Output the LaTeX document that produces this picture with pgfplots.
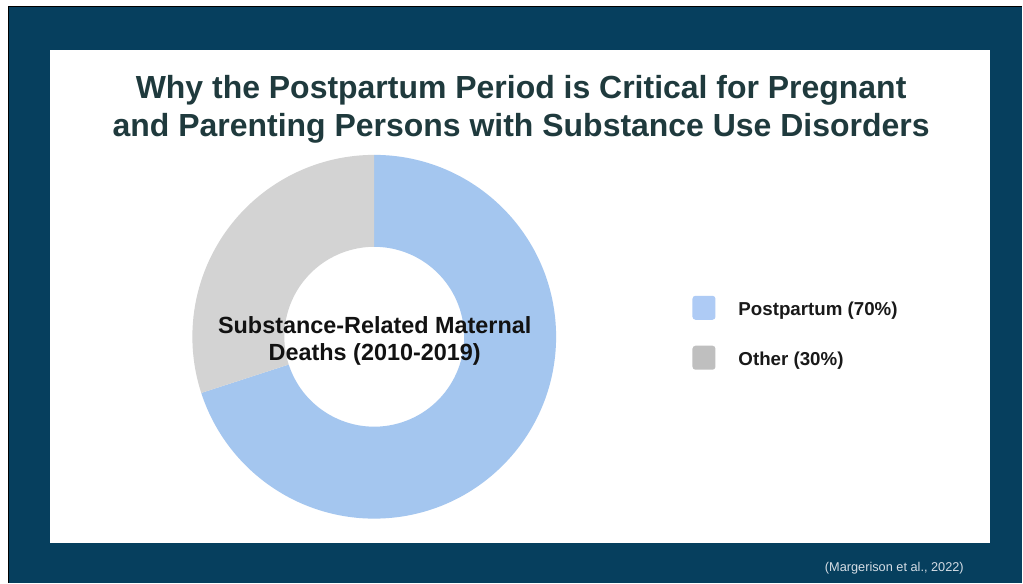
\documentclass[border=0pt]{standalone}
\usepackage{pgfplots}
\usepackage{pgfplotstable}
\pgfplotsset{compat=1.18}
\usepackage{fontspec}
\setmainfont{Liberation Sans}
\definecolor{framebg}{HTML}{063F5E}
\definecolor{titlecol}{HTML}{1F3A3D}
\definecolor{pblue}{HTML}{A4C6EF}
\definecolor{pgray}{HTML}{D3D3D3}
\definecolor{lblue}{HTML}{AECBF5}
\definecolor{lgray}{HTML}{BFBFBF}
\definecolor{citecol}{HTML}{D5DDE5}
\pgfplotstableread{
label value
Postpartum 70
Other 30
}\donutdata
\begin{document}
\begin{tikzpicture}[x=1bp,y=1bp]
\pgfplotstablegetelem{0}{value}\of\donutdata \let\vA\pgfplotsretval
\pgfplotstablegetelem{1}{value}\of\donutdata \let\vB\pgfplotsretval
\pgfmathsetmacro\fA{\vA/(\vA+\vB)}
\pgfmathsetmacro\fB{\vB/(\vA+\vB)}
\pgfmathsetmacro\angA{90-360*\fA}
\pgfmathsetmacro\angB{\angA-360*\fB}
\fill[white] (0,0) rectangle (1023,583);
\fill[framebg] (9,0) rectangle (1023,576.5);
\draw[black, line width=1.5bp] (8.5,0) -- (8.5,576.5) -- (1023,576.5);
\fill[white] (50,40) rectangle (991,533);
\node[font=\fontsize{32.1}{37.5}\selectfont\bfseries, text=titlecol, align=center] at (521.5,473.5) {Why the Postpartum Period is Critical for Pregnant\\and Parenting Persons with Substance Use Disorders};
\begin{axis}[x=1bp,y=1bp, xmin=-185,xmax=185,ymin=-185,ymax=185, hide axis,
  at={(374.5,246)}, anchor=center, clip=false]
\fill[pblue] (0,182) arc[start angle=90,end angle=\angA,radius=182bp]
  -- ({90*cos(\angA)},{90*sin(\angA)}) arc[start angle=\angA,end angle=90,radius=90bp] -- cycle;
\fill[pgray] ({182*cos(\angA)},{182*sin(\angA)}) arc[start angle=\angA,end angle=\angB,radius=182bp]
  -- (0,90) arc[start angle=\angB,end angle=\angA,radius=90bp] -- cycle;
\end{axis}
\node[font=\fontsize{23.5}{27.5}\selectfont\bfseries, text=black!93, align=center] at (375,241.5) {Substance-Related Maternal\\Deaths (2010-2019)};
\fill[lblue, rounded corners=3bp] (693,263) rectangle (716,287);
\fill[lgray, rounded corners=3bp] (693,213) rectangle (716,237);
\node[font=\fontsize{18.8}{22}\selectfont\bfseries, text=black!90, anchor=west] at (735.5,272.5) {Postpartum (70\%)};
\node[font=\fontsize{18.8}{22}\selectfont\bfseries, text=black!90, anchor=west] at (735.5,222.5) {Other (30\%)};
\node[font=\fontsize{12.8}{15}\selectfont, text=citecol] at (895,14) {(Margerison et al., 2022)};
\end{tikzpicture}
\end{document}
